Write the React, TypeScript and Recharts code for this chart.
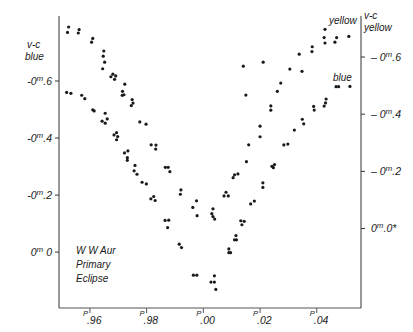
import React from 'react';
import { ScatterChart, Scatter, XAxis, YAxis } from 'recharts';

// phase (P) and v-c magnitude
const yellowPhase = [
  0.9525, 0.9521, 0.9562, 0.9559, 0.961, 0.9606, 0.9649, 0.9647, 0.9652, 0.9645,
  0.9681, 0.9691, 0.9674, 0.9687, 0.9723, 0.9715, 0.972, 0.9714, 0.9749, 0.9752,
  0.9746, 0.9776, 0.9798, 0.9816, 0.9833, 0.9832, 0.9866, 0.9876, 0.9882, 0.9921,
  0.9919, 0.9976, 0.9963, 0.9978, 1.0034, 1.003, 1.0034, 1.004, 1.008, 1.0073,
  1.0088, 1.0105, 1.011, 1.0122, 1.0152, 1.016, 1.02, 1.02, 1.0238, 1.0238,
  1.0261, 1.0273, 1.0305, 1.0338, 1.0348, 1.0384, 1.0383, 1.0429, 1.0426, 1.0429,
  1.047, 1.0464, 1.0513, 1.0141, 1.0211, 1.015,
];
const yellowMag = [
  -0.705, -0.686, -0.696, -0.684, -0.665, -0.652, -0.621, -0.603, -0.582, -0.559,
  -0.54, -0.534, -0.531, -0.522, -0.505, -0.48, -0.468, -0.466, -0.451, -0.439,
  -0.43, -0.373, -0.365, -0.293, -0.292, -0.278, -0.214, -0.214, -0.199, -0.135,
  -0.12, -0.097, -0.074, -0.045, -0.069, -0.052, -0.042, -0.033, -0.127, -0.114,
  -0.114, -0.178, -0.188, -0.191, -0.234, -0.293, -0.358, -0.321, -0.429, -0.414,
  -0.48, -0.509, -0.558, -0.61, -0.55, -0.636, -0.619, -0.697, -0.668, -0.649,
  -0.668, -0.652, -0.672, -0.568, -0.582, -0.467,
];

const bluePhase = [
  0.9518, 0.9533, 0.9571, 0.9582, 0.961, 0.9615, 0.9654, 0.9661, 0.9643, 0.9654,
  0.9694, 0.9685, 0.9698, 0.9694, 0.9734, 0.9722, 0.9732, 0.9732, 0.9759, 0.9756,
  0.9766, 0.9784, 0.9799, 0.9825, 0.9815, 0.983, 0.9865, 0.9878, 0.9874, 0.9915,
  0.9923, 0.9965, 0.9977, 1.0039, 1.0027, 1.0039, 1.0044, 1.009, 1.009, 1.0096,
  1.0115, 1.011, 1.0117, 1.0132, 1.0144, 1.0136, 1.0167, 1.018, 1.021, 1.021,
  1.0242, 1.0251, 1.0247, 1.0284, 1.0298, 1.0321, 1.0349, 1.0354, 1.0389, 1.0391,
  1.0426, 1.0431, 1.0433, 1.0468, 1.0477, 1.0517,
];
const blueMag = [
  -0.56, -0.557, -0.55, -0.538, -0.499, -0.495, -0.487, -0.467, -0.459, -0.452,
  -0.419, -0.411, -0.405, -0.394, -0.355, -0.348, -0.331, -0.322, -0.304, -0.285,
  -0.273, -0.245, -0.239, -0.195, -0.187, -0.181, -0.111, -0.112, -0.086, -0.028,
  -0.016, 0.081, 0.081, 0.083, 0.105, 0.105, 0.131, -0.011, 0.002, 0.002,
  -0.058, -0.043, -0.043, -0.11, -0.108, -0.096, -0.169, -0.179, -0.243, -0.227,
  -0.301, -0.307, -0.296, -0.376, -0.379, -0.428, -0.466, -0.45, -0.511, -0.498,
  -0.512, -0.523, -0.537, -0.58, -0.58, -0.581,
];

const phaseTicks = [0.96, 0.98, 1.0, 1.02, 1.04];
const phaseLabels = ['.96', '.98', '.00', '.02', '.04'];
const magTicks = [-0.6, -0.4, -0.2, 0];
const leftMagLabels = ['.6', '.4', '.2', ' 0'];
const rightMagLabels = ['.6', '.4', '.2', '.0*'];

const yellowData = yellowPhase.map((p, i) => ({ p, m: yellowMag[i] }));
const blueData = bluePhase.map((p, i) => ({ p, m: blueMag[i] }));

const ink = '#1a1a1a';
const font = '"Liberation Sans", Arial, sans-serif';

const Dot = (props: any) => <circle cx={props.cx} cy={props.cy} r={1.6} fill={ink} />;

const magLabel = (value: number, labels: string[]) => {
  const i = magTicks.findIndex((t) => Math.abs(t - value) < 1e-6);
  return { sign: value < 0 ? '-0' : '0', rest: labels[i] ?? '' };
};

const LeftTick = ({ x, y, payload }: any) => {
  const { sign, rest } = magLabel(payload.value, leftMagLabels);
  return (
    <text x={x} y={y} dy="0.35em" textAnchor="end" fontSize={10.5} fontStyle="italic" fill={ink} fontFamily={font}>
      {sign}
      <tspan fontSize={8} dy={-4}>m</tspan>
      <tspan dy={4}>{rest}</tspan>
    </text>
  );
};

const RightTick = ({ x, y, payload }: any) => {
  const { sign, rest } = magLabel(payload.value, rightMagLabels);
  return (
    <text x={x} y={y} dy="0.35em" textAnchor="start" fontSize={10.5} fontStyle="italic" fill={ink} fontFamily={font}>
      {sign === '-0' ? '\u2013 0' : '0'}
      <tspan fontSize={8} dy={-4}>m</tspan>
      <tspan dy={4}>{rest}</tspan>
    </text>
  );
};

const PhaseTick = ({ x, y, payload }: any) => {
  const i = phaseTicks.findIndex((t) => Math.abs(t - payload.value) < 1e-6);
  return (
    <g>
      <text x={x - 2} y={y + 1} textAnchor="end" fontSize={7.5} fontStyle="italic" fill={ink} fontFamily={font}>
        P
      </text>
      <text x={x - 3} y={y + 9} textAnchor="start" fontSize={10.5} fontStyle="italic" fill={ink} fontFamily={font}>
        {phaseLabels[i]}
      </text>
    </g>
  );
};

const txt = { fontSize: 10, fontStyle: 'italic' as const, fill: ink, fontFamily: font };

export default function App() {
  return (
    <div style={{ position: 'absolute', left: 0, top: 0, width: 413, height: 332, background: '#fff' }}>
      <ScatterChart width={413} height={332} margin={{ top: 16, right: 0, bottom: 0, left: 0 }}>
        <XAxis
          xAxisId="b"
          type="number"
          dataKey="p"
          domain={[0.9491, 1.0556]}
          ticks={phaseTicks}
          tick={<PhaseTick />}
          tickSize={5}
          tickMargin={2}
          height={24}
          stroke="#555"
          allowDataOverflow
        />
        <XAxis
          xAxisId="t"
          orientation="top"
          type="number"
          dataKey="p"
          domain={[0.9491, 1.0556]}
          tick={false}
          tickLine={false}
          height={0}
          stroke="#888"
          allowDataOverflow
        />
        <YAxis
          yAxisId="blue"
          type="number"
          dataKey="m"
          domain={[-0.828, 0.196]}
          reversed
          ticks={magTicks}
          tick={<LeftTick />}
          tickSize={4}
          tickMargin={3}
          width={59}
          stroke="#333"
          allowDataOverflow
        />
        <YAxis
          yAxisId="yellow"
          orientation="right"
          type="number"
          dataKey="m"
          domain={[-0.7435, 0.278]}
          reversed
          ticks={magTicks}
          tick={<RightTick />}
          tickSize={4}
          tickMargin={6}
          width={52}
          stroke="#333"
          allowDataOverflow
        />
        <Scatter data={blueData} xAxisId="b" yAxisId="blue" shape={<Dot />} isAnimationActive={false} />
        <Scatter data={yellowData} xAxisId="t" yAxisId="yellow" shape={<Dot />} isAnimationActive={false} />
        <text x={27} y={48} {...txt}>v-c</text>
        <text x={25} y={60} {...txt}>blue</text>
        <text x={364} y={19} {...txt}>v-c</text>
        <text x={364} y={31} {...txt}>yellow</text>
        <text x={329} y={24} {...txt}>yellow</text>
        <text x={333} y={81} {...txt}>blue</text>
        <text x={76} y={254} {...txt}>W W  Aur</text>
        <text x={76} y={268} {...txt}>Primary</text>
        <text x={76} y={282} {...txt}>Eclipse</text>
      </ScatterChart>
    </div>
  );
}
